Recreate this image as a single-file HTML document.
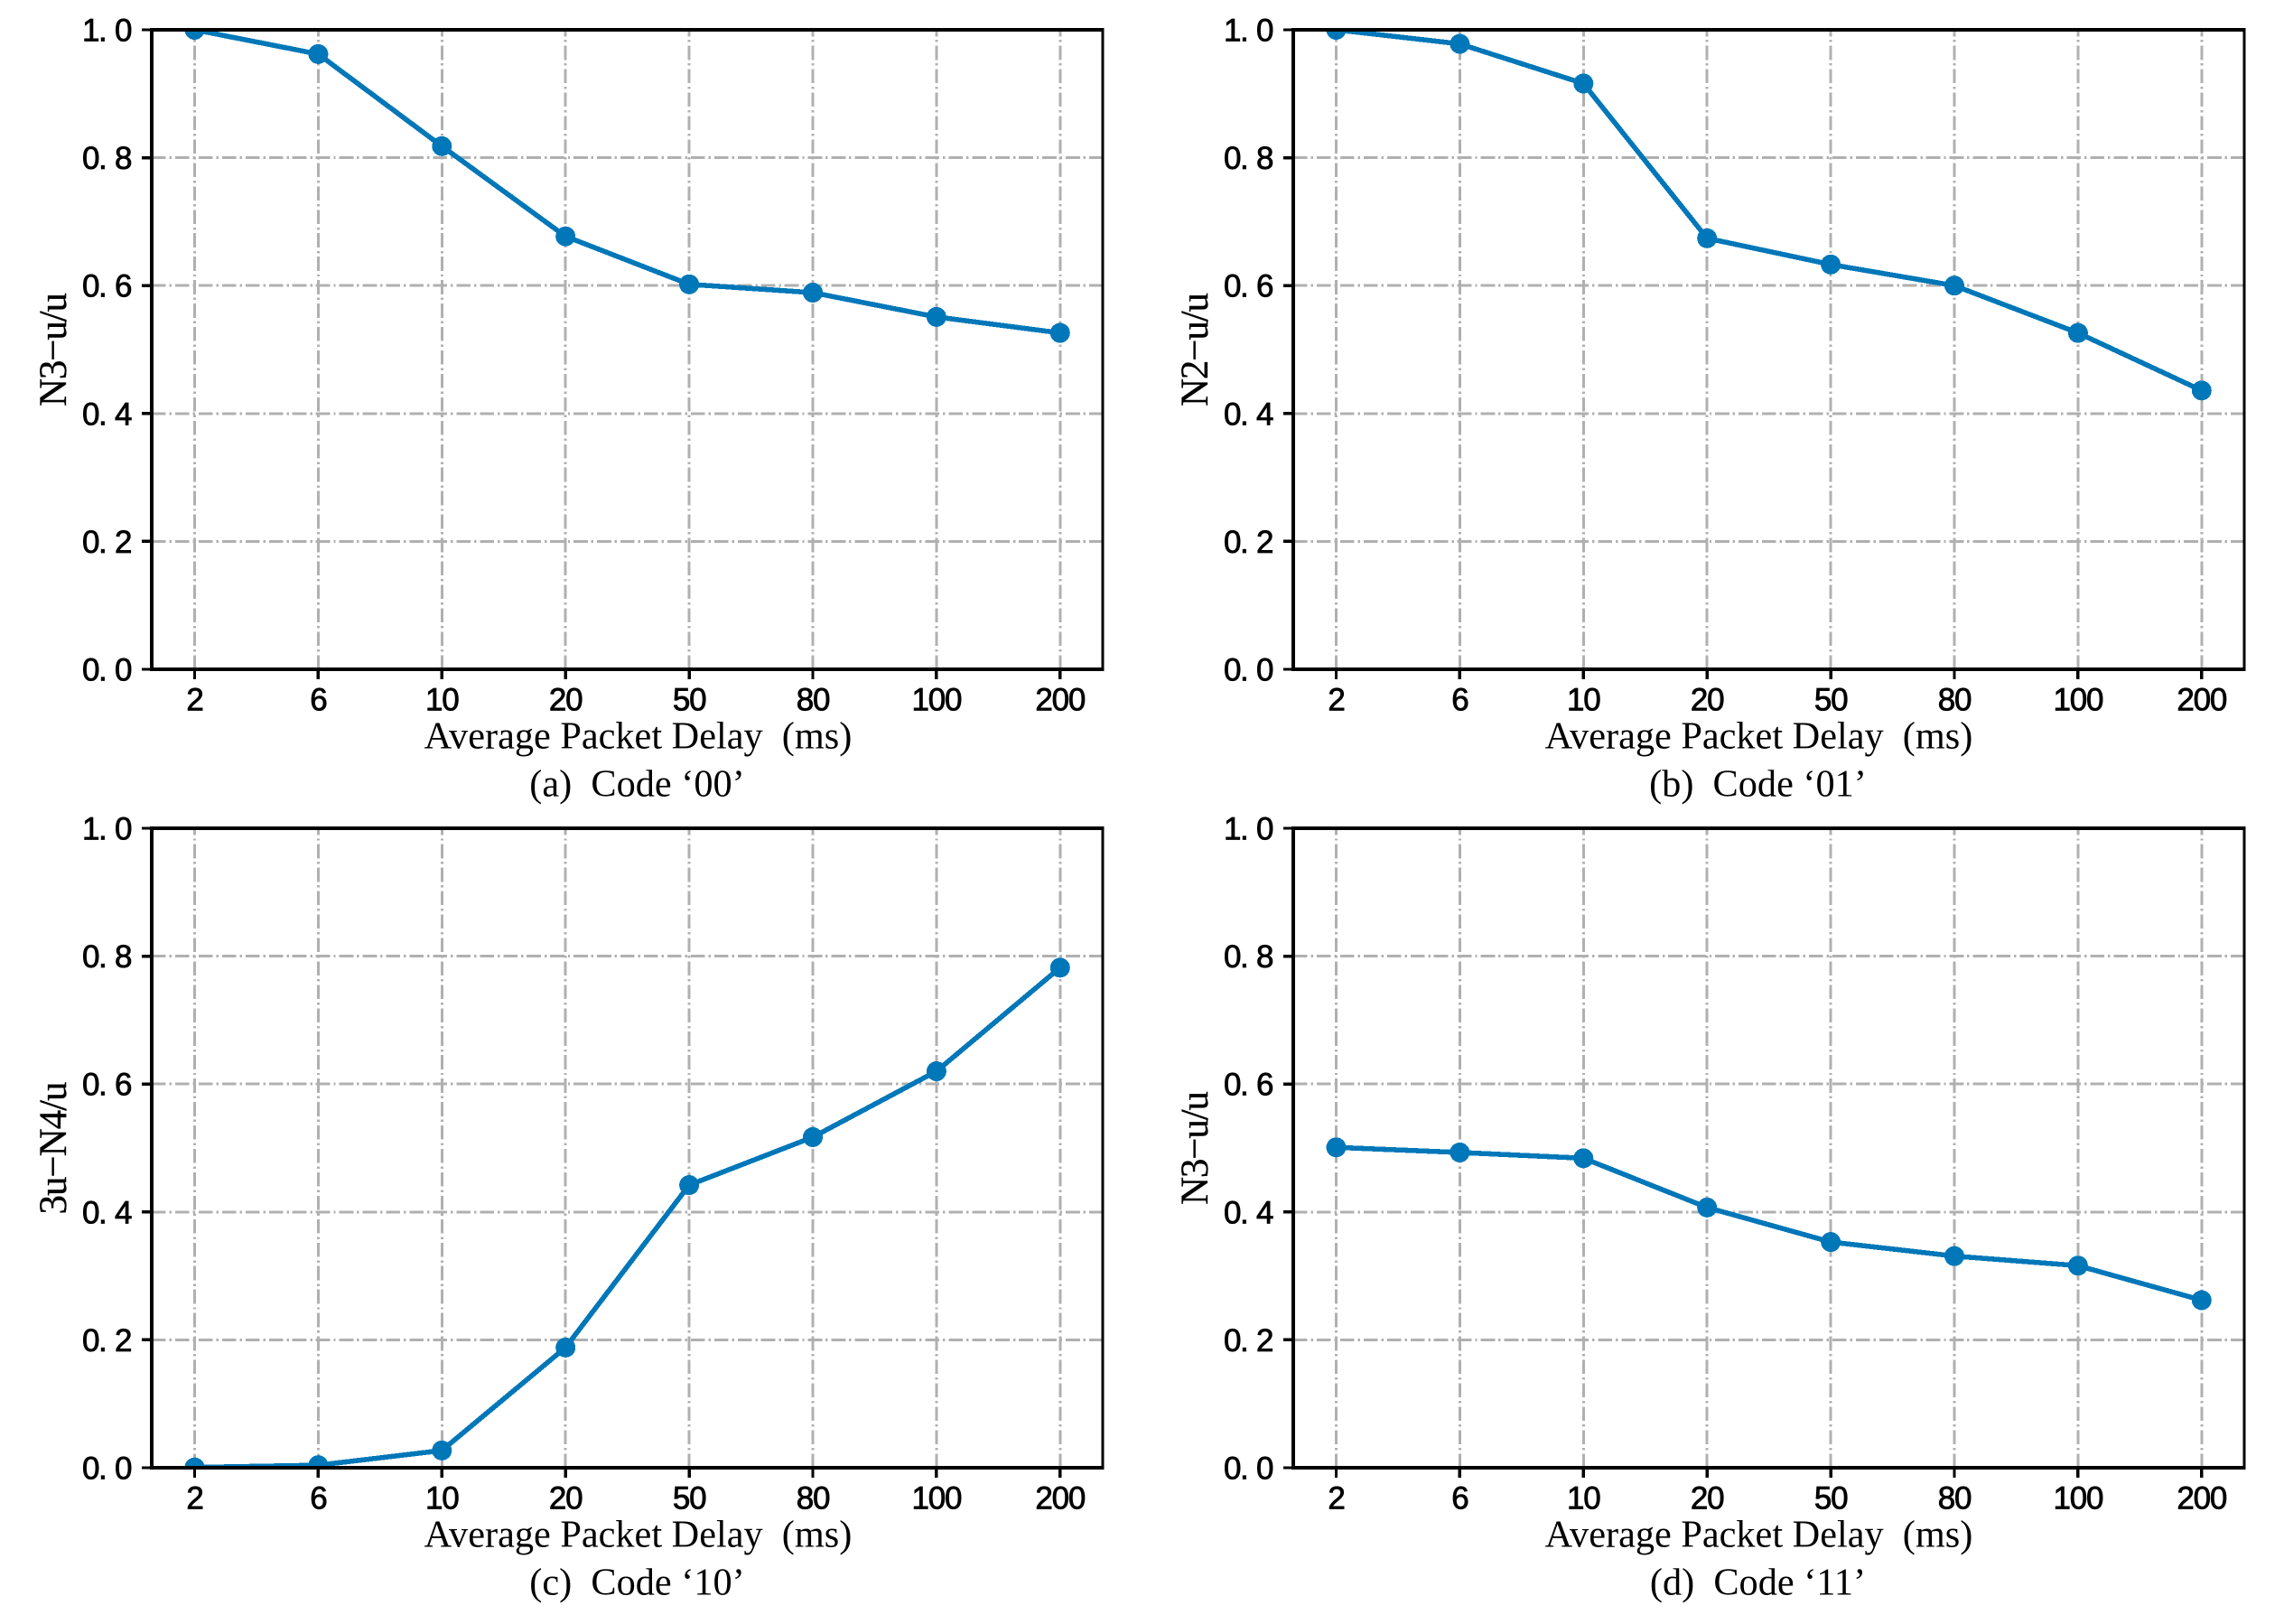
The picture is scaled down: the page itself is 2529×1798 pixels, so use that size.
<!DOCTYPE html>
<html lang="en">
<head>
<meta charset="utf-8">
<title>Average Packet Delay charts</title>
<style>
  html, body { margin: 0; padding: 0; background: #fff; }
  svg { display: block; }
  .tick-label { font-family: "Liberation Sans", sans-serif; font-size: 35px; fill: #000; stroke: #000; stroke-width: 0.8px; }
  .x-tick-text { letter-spacing: -1.2px; }
  .serif-label { font-family: "Liberation Serif", serif; font-size: 42.3px; fill: #000; white-space: pre; }
  .y-title { font-family: "Liberation Serif", serif; font-size: 43px; fill: #000; stroke: #000; stroke-width: 0.3px; }
</style>
</head>
<body>
<svg id="figure" xmlns="http://www.w3.org/2000/svg" width="2529" height="1798" viewBox="0 0 2529 1798"></svg>
<script>
const categories = ['2', '6', '10', '20', '50', '80', '100', '200'];
const yTickValues = [0, 0.2, 0.4, 0.6, 0.8, 1.0];
const yTickLabels = ['0.0', '0.2', '0.4', '0.6', '0.8', '1.0'];
const seriesA = [1.0, 0.962, 0.818, 0.677, 0.602, 0.589, 0.551, 0.526];
const seriesB = [1.0, 0.978, 0.916, 0.674, 0.633, 0.600, 0.526, 0.436];
const seriesC = [0.0005, 0.004, 0.027, 0.188, 0.442, 0.517, 0.620, 0.782];
const seriesD = [0.501, 0.493, 0.484, 0.407, 0.353, 0.331, 0.316, 0.262];

const NS = 'http://www.w3.org/2000/svg';
const figure = document.getElementById('figure');
const LINE_COLOR = '#0077b8';
const GRID_COLOR = '#b0b0b0';
const AXIS_W = 1053;
const AXIS_H = 708;

function make(tag, attrs, parent) {
  const el = document.createElementNS(NS, tag);
  for (const key in attrs) el.setAttribute(key, attrs[key]);
  parent.appendChild(el);
  return el;
}

function drawPanel(id, left, top, values, yTitle, caption, labelX) {
  const xPos = i => left + 47.5 + i * 136.9;
  const yPos = v => top + AXIS_H - v * AXIS_H;
  const bottom = top + AXIS_H;
  const right = left + AXIS_W;

  const panel = make('g', {}, figure);
  
  

  const clip = make('clipPath', { id: 'clip-' + id }, panel);
  make('rect', { x: left, y: top, width: AXIS_W, height: AXIS_H }, clip);

  yTickValues.forEach((v, i) => {
    if (i === 0 || i === yTickValues.length - 1) return;
    const grid = make('line', {
      x1: left, x2: right, y1: yPos(v), y2: yPos(v),
      stroke: GRID_COLOR, 'stroke-width': 3,
      'stroke-dasharray': '15.7 3.9 2.45 3.9', 'shape-rendering': 'crispEdges'
    }, panel);
    
    
  });

  categories.forEach((c, i) => {
    const grid = make('line', {
      x1: xPos(i), x2: xPos(i), y1: bottom, y2: top,
      stroke: GRID_COLOR, 'stroke-width': 3,
      'stroke-dasharray': '15.7 3.9 2.45 3.9', 'shape-rendering': 'crispEdges'
    }, panel);
    
    
  });

  const plot = make('g', { 'clip-path': 'url(#clip-' + id + ')' }, panel);
  
  

  const line = make('polyline', {
    points: values.map((v, i) => xPos(i) + ',' + yPos(v)).join(' '),
    fill: 'none', stroke: LINE_COLOR, 'stroke-width': 5.6,
    'stroke-linejoin': 'round', 'shape-rendering': 'crispEdges'
  }, plot);
  
  

  values.forEach((v, i) => {
    const dot = make('circle', {
      cx: xPos(i), cy: yPos(v), r: 11, fill: LINE_COLOR, 'shape-rendering': 'crispEdges'
    }, plot);
    
    
  });

  const frame = [
    ['spine-left', left - 2, top - 2, 4, AXIS_H + 4],
    ['spine-bottom', left - 2, bottom - 2, AXIS_W + 3.5, 4],
    ['spine-top', left - 2, top - 2, AXIS_W + 3.5, 4],
    ['spine-right', right - 1.5, top - 2, 3, AXIS_H + 4]
  ];
  frame.forEach(f => {
    const spine = make('rect', {
      x: f[1], y: f[2], width: f[3], height: f[4], fill: '#000', 'shape-rendering': 'crispEdges'
    }, panel);
    
    
  });

  yTickValues.forEach((v, i) => {
    const tick = make('line', {
      x1: left - 11, x2: left, y1: yPos(v), y2: yPos(v),
      stroke: '#000', 'stroke-width': 3.4, 'shape-rendering': 'crispEdges'
    }, panel);
    
    
    const label = make('text', {
      x: (left - 77) + ' ' + (left - 59) + ' ' + (left - 41),
      y: yPos(v) + 12.5, class: 'tick-label'
    }, panel);
    label.textContent = yTickLabels[i];
    
    
  });

  categories.forEach((c, i) => {
    const tick = make('line', {
      x1: xPos(i), x2: xPos(i), y1: bottom, y2: bottom + 11,
      stroke: '#000', 'stroke-width': 3.4, 'shape-rendering': 'crispEdges'
    }, panel);
    
    
    const label = make('text', {
      x: xPos(i), y: bottom + 45.5, 'text-anchor': 'middle', class: 'tick-label x-tick-text'
    }, panel);
    label.textContent = c;
    
    
  });

  const xTitle = make('text', {
    x: labelX, y: bottom + 87.5, 'text-anchor': 'middle', class: 'serif-label'
  }, panel);
  xTitle.textContent = 'Average Packet Delay  (ms)';
  
  

  const cap = make('text', {
    x: labelX - 1, y: bottom + 140.5, 'text-anchor': 'middle', class: 'serif-label'
  }, panel);
  cap.textContent = caption;
  
  

  const titleX = left - 95;
  const titleY = top + AXIS_H / 2;
  const yt = make('text', {
    x: titleX, y: titleY, 'text-anchor': 'middle', class: 'y-title',
    transform: 'rotate(-90 ' + titleX + ' ' + titleY + ')',
    textLength: yTitle.length * 21, lengthAdjust: 'spacing'
  }, panel);
  yt.textContent = yTitle;
  
  
}

drawPanel('a', 168, 33, seriesA, 'N3\u2212u/u', '(a)  Code \u201800\u2019', 706.5);
drawPanel('b', 1432, 33, seriesB, 'N2\u2212u/u', '(b)  Code \u201801\u2019', 1947.5);
drawPanel('c', 168, 917, seriesC, '3u\u2212N4/u', '(c)  Code \u201810\u2019', 706.5);
drawPanel('d', 1432, 917, seriesD, 'N3\u2212u/u', '(d)  Code \u201811\u2019', 1947.5);
</script>
</body>
</html>
